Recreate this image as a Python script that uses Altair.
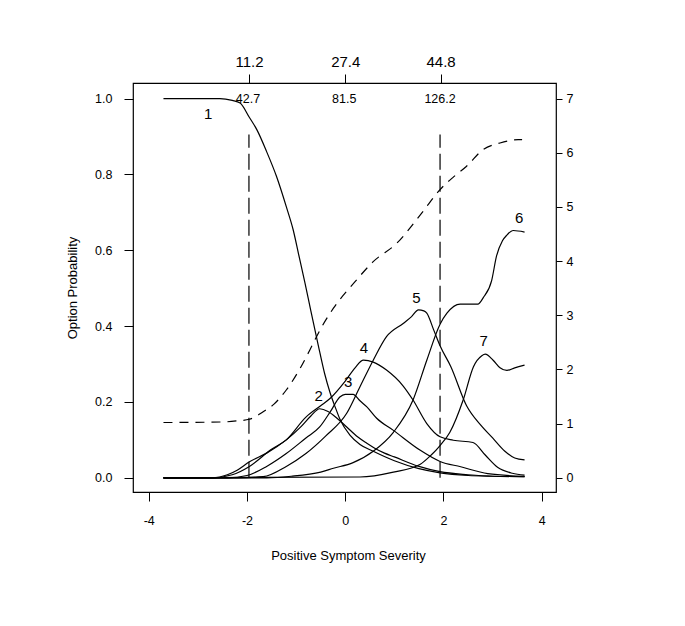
import altair as alt
import pandas as pd

# ---------------- data ----------------
c1_x = [-3.7, -2.55, -2.3, -2.14, -1.95, -1.8, -1.6, -1.4, -1.2, -1.06, -0.95, -0.82, -0.7, -0.55, -0.42, -0.31, -0.2, -0.11, 0.1, 0.3, 0.57, 1.0, 1.5, 1.93, 2.5, 3.0, 3.65]
c1_y = [1.0, 1.0, 0.995, 0.988, 0.95, 0.918, 0.86, 0.795, 0.715, 0.654, 0.59, 0.514, 0.44, 0.35, 0.275, 0.225, 0.185, 0.155, 0.112, 0.088, 0.07, 0.045, 0.024, 0.013, 0.006, 0.004, 0.003]

c2_x = [-3.7, -2.7, -2.4, -2.2, -1.95, -1.6, -1.2, -0.9, -0.7, -0.52, -0.35, -0.15, 0.03, 0.25, 0.44, 0.6, 0.8, 1.0, 1.5, 1.93, 2.5, 3.0, 3.65]
c2_y = [0.0, 0.0, 0.008, 0.02, 0.042, 0.065, 0.1, 0.135, 0.163, 0.182, 0.175, 0.155, 0.134, 0.108, 0.091, 0.078, 0.065, 0.055, 0.03, 0.016, 0.008, 0.004, 0.003]

c3_x = [-3.7, -2.4, -2.0, -1.6, -1.2, -0.8, -0.52, -0.3, -0.11, 0.0, 0.16, 0.3, 0.44, 0.64, 0.98, 1.52, 1.93, 2.35, 2.9, 3.65]
c3_y = [0.0, 0.0, 0.006, 0.03, 0.064, 0.105, 0.134, 0.175, 0.213, 0.22, 0.22, 0.203, 0.187, 0.157, 0.125, 0.073, 0.043, 0.029, 0.011, 0.004]

c4_x = [-3.7, -2.7, -2.3, -1.95, -1.5, -1.2, -0.8, -0.5, -0.31, 0.0, 0.2, 0.37, 0.57, 0.84, 1.18, 1.38, 1.66, 1.93, 2.2, 2.6, 2.85, 3.1, 3.4, 3.65]
c4_y = [0.0, 0.0, 0.008, 0.03, 0.075, 0.1, 0.16, 0.19, 0.209, 0.255, 0.29, 0.31, 0.305, 0.284, 0.242, 0.205, 0.143, 0.108, 0.099, 0.093, 0.06, 0.028, 0.012, 0.007]

c5_x = [-3.7, -2.2, -1.67, -1.2, -0.8, -0.4, 0.03, 0.3, 0.57, 0.84, 1.18, 1.35, 1.49, 1.6, 1.66, 1.8, 1.93, 2.15, 2.47, 2.75, 3.0, 3.25, 3.45, 3.65]
c5_y = [0.0, 0.0, 0.003, 0.03, 0.064, 0.11, 0.17, 0.24, 0.31, 0.372, 0.407, 0.425, 0.443, 0.44, 0.434, 0.39, 0.348, 0.293, 0.19, 0.14, 0.105, 0.07, 0.052, 0.047]

c6_x = [-3.7, -1.6, -1.1, -0.5, -0.24, 0.16, 0.57, 0.98, 1.38, 1.66, 1.93, 2.07, 2.34, 2.7, 2.81, 2.98, 3.08, 3.2, 3.29, 3.42, 3.65]
c6_y = [0.0, 0.0, 0.004, 0.015, 0.025, 0.04, 0.07, 0.12, 0.205, 0.31, 0.405, 0.434, 0.458, 0.458, 0.475, 0.52, 0.585, 0.625, 0.64, 0.652, 0.648]

c7_x = [-3.7, 0.3, 0.98, 1.52, 1.75, 1.93, 2.13, 2.4, 2.61, 2.78, 2.85, 3.01, 3.15, 3.29, 3.45, 3.65]
c7_y = [0.0, 0.002, 0.015, 0.035, 0.06, 0.085, 0.12, 0.205, 0.293, 0.322, 0.326, 0.31, 0.29, 0.283, 0.29, 0.297]

# expected score (right axis, 0-7)
exp_x = [-3.7, -2.5, -2.2, -1.95, -1.67, -1.45, -1.2, -0.9, -0.72, -0.5, -0.24, 0.2, 0.57, 1.05, 1.56, 1.93, 2.2, 2.47, 2.81, 3.15, 3.52, 3.6]
exp_y = [1.02, 1.03, 1.05, 1.08, 1.22, 1.36, 1.62, 2.05, 2.36, 2.75, 3.13, 3.62, 3.99, 4.33, 4.89, 5.32, 5.55, 5.75, 6.06, 6.18, 6.24, 6.24]

# vertical dashed reference lines
vline_x = [-1.96, 1.93]
vline_top = 0.905

# curve labels
lab_text = ["1", "2", "3", "4", "5", "6", "7"]
lab_x = [-2.79, -0.54, 0.06, 0.38, 1.45, 3.54, 2.82]
lab_y = [0.958, 0.215, 0.253, 0.343, 0.473, 0.685, 0.361]

# raw-score labels inside the plot
inner_text = ["42.7", "81.5", "126.2"]
inner_x = [-1.98, -0.02, 1.93]
inner_y = [1.0, 1.0, 1.0]

# top axis ticks and labels
top_ticks = [-1.96, 0.0, 1.94]
top_labels = ["11.2", "27.4", "44.8"]

bottom_ticks = [-4, -2, 0, 2, 4]
left_ticks = [0.0, 0.2, 0.4, 0.6, 0.8, 1.0]
right_ticks = [0, 1, 2, 3, 4, 5, 6, 7]

# ---------------- build tables ----------------
curves = [(c1_x, c1_y), (c2_x, c2_y), (c3_x, c3_y), (c4_x, c4_y),
          (c5_x, c5_y), (c6_x, c6_y), (c7_x, c7_y)]
rows = []
for i, (xs_, ys_) in enumerate(curves, start=1):
    for a, b in zip(xs_, ys_):
        rows.append({"curve": str(i), "x": a, "y": b})
df_curves = pd.DataFrame(rows)
df_exp = pd.DataFrame({"x": exp_x, "y": exp_y})
df_v = pd.DataFrame({"x": vline_x, "y0": [0.0] * len(vline_x), "y1": [vline_top] * len(vline_x)})
df_lab = pd.DataFrame({"t": lab_text, "x": lab_x, "y": lab_y})
df_inner = pd.DataFrame({"t": inner_text, "x": inner_x, "y": inner_y})

XDOM = [-4.32, 4.29]
YDOM = [-0.0375, 1.041]
Y2DOM = [YDOM[0] * 7, YDOM[1] * 7]
FONT = "Liberation Sans"


def xsc():
    return alt.Scale(domain=XDOM, nice=False, zero=False)


def ysc():
    return alt.Scale(domain=YDOM, nice=False, zero=False)


top_expr = " : ".join(
    [f"abs(datum.value - ({v})) < 0.01 ? '{l}'" for v, l in zip(top_ticks, top_labels)]
) + " : ''"

lines = alt.Chart(df_curves).mark_line(
    color="black", strokeWidth=1.2, interpolate="monotone"
).encode(
    x=alt.X("x:Q", scale=xsc(), axis=alt.Axis(
        orient="bottom", values=bottom_ticks, title="Positive Symptom Severity",
        labelExpr="toString(datum.value)",
        tickSize=9, labelPadding=13, labelFontSize=12.5, labelFlush=False,
        titleFontSize=13, titleX=215, titleY=57, titleBaseline="top")),
    y=alt.Y("y:Q", scale=ysc(), axis=alt.Axis(
        orient="left", values=left_ticks, format=".1f", title="Option Probability",
        tickSize=9, labelPadding=12, labelFontSize=12.5, labelFlush=False,
        titleFontSize=13, titleX=-54, titleY=204.5)),
    detail="curve:N",
)

vrules = alt.Chart(df_v).mark_rule(
    color="black", strokeWidth=1.2, strokeDash=[16, 6]
).encode(
    x=alt.X("x:Q", scale=xsc(), axis=None),
    y=alt.Y("y0:Q", scale=ysc(), axis=None),
    y2="y1:Q",
)

labels = alt.Chart(df_lab).mark_text(
    fontSize=15, font=FONT, color="black", align="center", baseline="middle"
).encode(
    x=alt.X("x:Q", scale=xsc(), axis=None),
    y=alt.Y("y:Q", scale=ysc(), axis=None),
    text="t:N",
)

inner = alt.Chart(df_inner).mark_text(
    fontSize=12.5, font=FONT, color="black", align="center", baseline="middle"
).encode(
    x=alt.X("x:Q", scale=xsc(), axis=alt.Axis(
        orient="top", values=top_ticks, labelExpr=top_expr, title=None,
        tickSize=9, labelPadding=5, labelFontSize=15, labelFlush=False)),
    y=alt.Y("y:Q", scale=ysc(), axis=None),
    text="t:N",
)

expected = alt.Chart(df_exp).mark_line(
    color="black", strokeWidth=1.2, strokeDash=[9, 7], interpolate="monotone"
).encode(
    x=alt.X("x:Q", scale=xsc(), axis=None),
    y=alt.Y("y:Q", scale=alt.Scale(domain=Y2DOM, nice=False, zero=False), axis=alt.Axis(
        orient="right", values=right_ticks, format="d", title=None,
        tickSize=6, labelPadding=4, labelFontSize=12.5, labelFlush=False)),
)

chart = alt.layer(lines, vrules, labels, inner, expected).resolve_scale(
    x="independent", y="independent"
).properties(
    width=423, height=409,
    autosize=alt.AutoSizeParams(type="none"),
    padding={"left": 125, "top": 75, "right": 100, "bottom": 100},
    background="white",
).configure_view(
    stroke="black", strokeWidth=1.2
).configure_axis(
    domain=False, grid=False, tickColor="black", tickWidth=1,
    labelColor="black", titleColor="black", labelFont=FONT, titleFont=FONT,
    titleFontWeight="normal",
)

chart.save("out.html", embed_options={"renderer": "svg", "actions": False})
